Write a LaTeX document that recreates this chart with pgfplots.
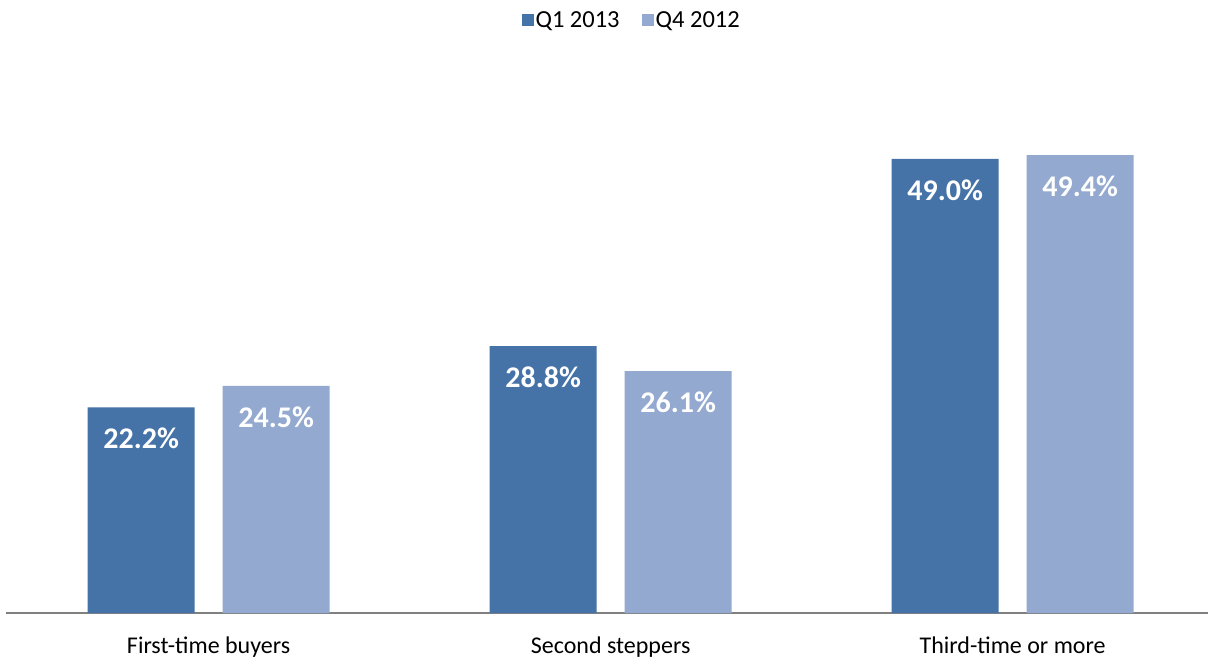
\documentclass[border=0pt]{standalone}
\usepackage{pgfplots}
\pgfplotsset{compat=1.18}
\usepackage{fontspec}
\setmainfont{Carlito}
\definecolor{darkb}{RGB}{69,114,167}
\definecolor{lightb}{RGB}{147,169,207}
\definecolor{axgray}{RGB}{128,128,128}
\begin{document}
\begin{tikzpicture}
\begin{axis}[
  at={(0pt,0pt)}, anchor=south west,
  scale only axis,
  width=1202pt, height=556pt,
  xmin=-0.504, xmax=2.486,
  ymin=0, ymax=60,
  ybar=28pt,
  bar width=107pt,
  axis x line=bottom,
  axis y line=none,
  axis line style={axgray, line width=1.5pt, -},
  xtick={0,1,2},
  xticklabels={First-time buyers, Second steppers, Third-time or more},
  xtick style={draw=none},
  xticklabel style={font=\fontsize{24}{28}\selectfont, text=black, yshift=-18pt},
  ytick=\empty,
  /pgf/number format/assume math mode=true,
  nodes near coords={\pgfmathprintnumber[fixed,fixed zerofill,precision=1]{\pgfplotspointmeta}\%},
  nodes near coords style={font=\fontsize{30}{34}\selectfont\bfseries, text=white, anchor=center, yshift=-31pt},
  legend style={at={(axis description cs:0.5205,1.066)}, anchor=center, draw=none, fill=none,
    legend columns=2, font=\fontsize{24.5}{28}\selectfont,
    /tikz/every even column/.append style={column sep=20pt}},
  legend image code/.code={\fill[#1] (0pt,-6pt) rectangle (12pt,6pt);},
]
\addplot[fill=darkb, draw=none] coordinates {(0,22.2) (1,28.8) (2,49.0)};
\addplot[fill=lightb, draw=none] coordinates {(0,24.5) (1,26.1) (2,49.4)};
\legend{Q1 2013, Q4 2012}
\end{axis}
\pgfresetboundingbox
\path[use as bounding box] (-6pt,-44pt) rectangle (1202pt,613pt);
\end{tikzpicture}
\end{document}
